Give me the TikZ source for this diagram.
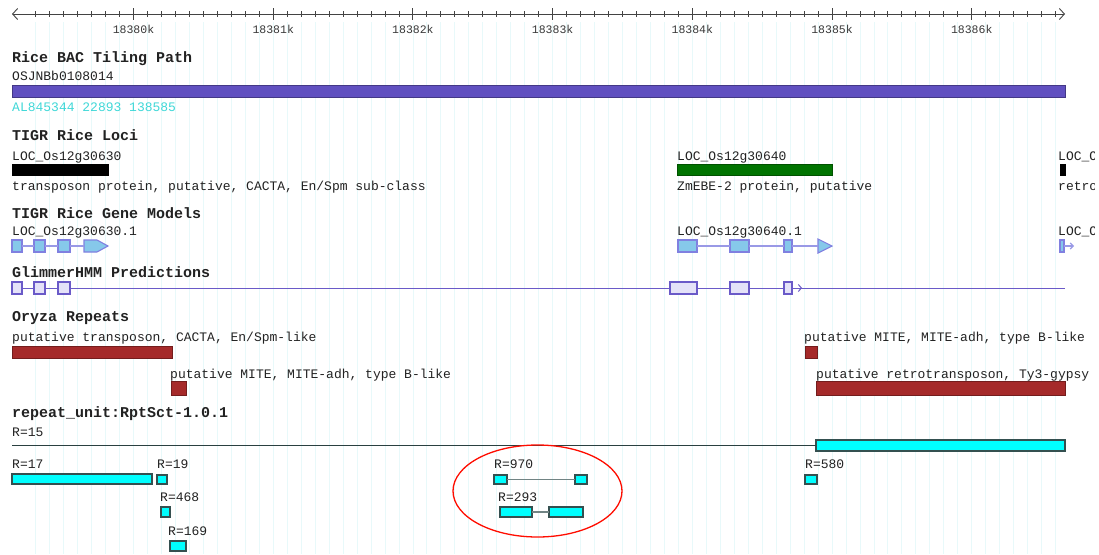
\documentclass[tikz,border=0pt]{standalone}
\usepackage{fontspec}
\setmonofont{Liberation Mono}
\usetikzlibrary{arrows.meta}
\definecolor{txt}{HTML}{222222}
\definecolor{gridc}{HTML}{E8F9FA}
\definecolor{bacbar}{HTML}{6050C0}
\definecolor{acc}{HTML}{40D8D8}
\definecolor{locgreen}{HTML}{007400}
\definecolor{rep}{HTML}{A52A2A}
\definecolor{exonfill}{HTML}{86C8EA}
\definecolor{exonline}{HTML}{8080E0}
\definecolor{glimfill}{HTML}{E4E2F8}
\definecolor{glimline}{HTML}{6A5AC8}
\definecolor{rptfill}{HTML}{00FFFF}
\definecolor{rptline}{HTML}{345050}
\begin{document}
\begin{tikzpicture}[x=1pt,y=-1pt,
  lbl/.style={font=\ttfamily\fontsize{13}{13}\selectfont, text=txt, inner sep=0pt, anchor=base west},
  ttl/.style={font=\ttfamily\bfseries\fontsize{15}{15}\selectfont, text=txt, inner sep=0pt, anchor=base west},
  rlab/.style={font=\ttfamily\fontsize{11.5}{11.5}\selectfont, text=txt!90, inner sep=0pt},
  box/.style={rectangle, inner sep=0pt, outer sep=0pt, anchor=north west},
  bar/.style={box, fill=#1, draw=#1!70!black, line width=0.6pt},
  exon/.style={box, fill=exonfill, draw=exonline, line width=1.1pt},
  glim/.style={box, fill=glimfill, draw=glimline, line width=1.1pt},
  rpt/.style={box, fill=rptfill, draw=rptline, line width=1.3pt},
  intron/.style={draw=exonline!80, line width=1.1pt},
  gintron/.style={draw=glimline, line width=1pt},
  rlink/.style={draw=rptline!70, line width=1.1pt},
  tick/.style={draw=txt!85, line width=0.8pt}
]
% canvas
\path[fill=white,use as bounding box] (0,0) rectangle (1099,554);

% faint grid at every 100 bp
\foreach \i in {-7,...,66}{
  \pgfmathsetmacro\gx{133.5+\i*13.97}
  \draw[gridc, line width=0.8pt] (\gx,22) -- (\gx,554);
}

% ruler
\coordinate (rl) at (12,14);
\coordinate (rr) at (1065,14);
\draw[txt!85, line width=0.9pt, {Straight Barb[length=5pt,width=11pt]}-{Straight Barb[length=5pt,width=11pt]}] (rl) -- (rr);
\foreach \i in {-7,...,66}{
  \pgfmathtruncatemacro\m{mod(\i+10,10)}
  \ifnum\m=0\else
    \pgfmathsetmacro\tx{133.5+\i*13.97}
    \draw[tick] (\tx,11) -- (\tx,17);
  \fi
}
\foreach \i/\lab in {0/18380k,1/18381k,2/18382k,3/18383k,4/18384k,5/18385k,6/18386k}{
  \pgfmathsetmacro\tx{133.5+\i*139.7}
  \draw[tick, line width=0.9pt] (\tx,8) -- (\tx,20);
  \node[rlab] (tick\i) at (\tx,29) {\lab};
}

% Rice BAC Tiling Path
\node[ttl] (tBAC) at (12,62) {Rice BAC Tiling Path};
\node[lbl] (bacname) at (12,80) {OSJNBb0108014};
\node[bar=bacbar, minimum width=1053pt, minimum height=12pt] (bac) at (12,85) {};
\node[lbl, text=acc] (bacacc) at (12,111) {AL845344 22893 138585};

% TIGR Rice Loci
\node[ttl] (tLoci) at (12,140) {TIGR Rice Loci};
\node[lbl] (loc1) at (12,160) {LOC\_Os12g30630};
\node[bar=black, minimum width=96pt, minimum height=11pt] (loc1bar) at (12,164) {};
\node[lbl] (loc1d) at (12,190) {transposon protein, putative, CACTA, En/Spm sub-class};
\node[lbl] (loc2) at (677,160) {LOC\_Os12g30640};
\node[bar=locgreen, minimum width=155pt, minimum height=11pt] (loc2bar) at (677,164) {};
\node[lbl] (loc2d) at (677,190) {ZmEBE-2 protein, putative};
\begin{scope}
  \clip (1050,140) rectangle (1094,200);
  \node[lbl] (loc3) at (1058,160) {LOC\_O};
  \node[lbl] (loc3d) at (1058,190) {retro};
\end{scope}
\node[bar=black, minimum width=5pt, minimum height=11pt] (loc3bar) at (1060,164) {};

% TIGR Rice Gene Models
\node[ttl] (tGene) at (12,218) {TIGR Rice Gene Models};
\node[lbl] (gm1) at (12,235) {LOC\_Os12g30630.1};
\node[exon, minimum width=10pt, minimum height=12pt] (g1a) at (12,240) {};
\node[exon, minimum width=11pt, minimum height=12pt] (g1b) at (34,240) {};
\node[exon, minimum width=12pt, minimum height=12pt] (g1c) at (58,240) {};
\draw[exon] (84,240) -- (97,240) -- (108,246) -- (97,252) -- (84,252) -- cycle;
\coordinate (g1d) at (84,246);
\draw[intron] (g1a.east) -- (g1b.west);
\draw[intron] (g1b.east) -- (g1c.west);
\draw[intron] (g1c.east) -- (g1d);

\node[lbl] (gm2) at (677,235) {LOC\_Os12g30640.1};
\node[exon, minimum width=19pt, minimum height=12pt] (g2a) at (678,240) {};
\node[exon, minimum width=19pt, minimum height=12pt] (g2b) at (730,240) {};
\node[exon, minimum width=8pt, minimum height=12pt] (g2c) at (784,240) {};
\draw[exon] (818,239) -- (832,246) -- (818,253) -- cycle;
\coordinate (g2d) at (818,246);
\draw[intron] (g2a.east) -- (g2b.west);
\draw[intron] (g2b.east) -- (g2c.west);
\draw[intron] (g2c.east) -- (g2d);

\begin{scope}
  \clip (1050,220) rectangle (1094,260);
  \node[lbl] (gm3) at (1058,235) {LOC\_O};
\end{scope}
\node[exon, minimum width=4pt, minimum height=12pt] (g3a) at (1060,240) {};
\coordinate (g3e) at (1074,246);
\draw[intron, -{Straight Barb[length=3pt,width=6pt]}] (g3a.east) -- (g3e);

% GlimmerHMM Predictions
\node[ttl] (tGlim) at (12,277) {GlimmerHMM Predictions};
\coordinate (gl0) at (12,288);
\coordinate (gl1) at (1065,288);
\draw[gintron] (gl0) -- (gl1);
\node[glim, minimum width=10pt, minimum height=12pt] (p1) at (12,282) {};
\node[glim, minimum width=11pt, minimum height=12pt] (p2) at (34,282) {};
\node[glim, minimum width=12pt, minimum height=12pt] (p3) at (58,282) {};
\node[glim, minimum width=27pt, minimum height=12pt] (p4) at (670,282) {};
\node[glim, minimum width=19pt, minimum height=12pt] (p5) at (730,282) {};
\node[glim, minimum width=8pt, minimum height=12pt] (p6) at (784,282) {};
\coordinate (p6e) at (802,288);
\draw[gintron, -{Straight Barb[length=3pt,width=7pt]}] (p6.east) -- (p6e);

% Oryza Repeats
\node[ttl] (tRep) at (12,321) {Oryza Repeats};
\node[lbl] (rep1) at (12,341) {putative transposon, CACTA, En/Spm-like};
\node[bar=rep, minimum width=160pt, minimum height=12pt] (rep1bar) at (12,346) {};
\node[lbl] (rep2) at (170,378) {putative MITE, MITE-adh, type B-like};
\node[bar=rep, minimum width=15pt, minimum height=14pt] (rep2bar) at (171,381) {};
\node[lbl] (rep3) at (804,341) {putative MITE, MITE-adh, type B-like};
\node[bar=rep, minimum width=12pt, minimum height=12pt] (rep3bar) at (805,346) {};
\node[lbl] (rep4) at (816,378) {putative retrotransposon, Ty3-gypsy};
\node[bar=rep, minimum width=249pt, minimum height=14pt] (rep4bar) at (816,381) {};

% repeat_unit:RptSct-1.0.1
\node[ttl] (tRpt) at (12,417) {repeat\_unit:RptSct-1.0.1};
\node[lbl] (r15) at (12,436) {R=15};
\coordinate (r15s) at (12,445.5);
\node[rpt, minimum width=249pt, minimum height=11pt] (r15b) at (816,440) {};
\draw[rptline!80!black, line width=1.8pt] (r15s) -- (r15b.west);

\node[lbl] (r17) at (12,468) {R=17};
\node[rpt, minimum width=140pt, minimum height=10pt] (r17b) at (12,474) {};
\node[lbl] (r19) at (157,468) {R=19};
\node[rpt, minimum width=10pt, minimum height=9pt] (r19b) at (157,475) {};
\node[lbl] (r468) at (160,501) {R=468};
\node[rpt, minimum width=9pt, minimum height=10pt] (r468b) at (161,507) {};
\node[lbl] (r169) at (168,535) {R=169};
\node[rpt, minimum width=16pt, minimum height=10pt] (r169b) at (170,541) {};

\node[lbl] (r970) at (494,468) {R=970};
\node[rpt, minimum width=13pt, minimum height=9pt] (r970a) at (494,475) {};
\node[rpt, minimum width=12pt, minimum height=9pt] (r970b) at (575,475) {};
\draw[rlink] (r970a.east) -- (r970b.west);
\node[lbl] (r293) at (498,501) {R=293};
\node[rpt, minimum width=32pt, minimum height=10pt] (r293a) at (500,507) {};
\node[rpt, minimum width=34pt, minimum height=10pt] (r293b) at (549,507) {};
\draw[rlink] (r293a.east) -- (r293b.west);

\node[lbl] (r580) at (805,468) {R=580};
\node[rpt, minimum width=12pt, minimum height=9pt] (r580b) at (805,475) {};

% highlight ring
\draw[red!90!orange, line width=1.3pt] (537.5,491) ellipse [x radius=84.5, y radius=46];
\end{tikzpicture}
\end{document}
